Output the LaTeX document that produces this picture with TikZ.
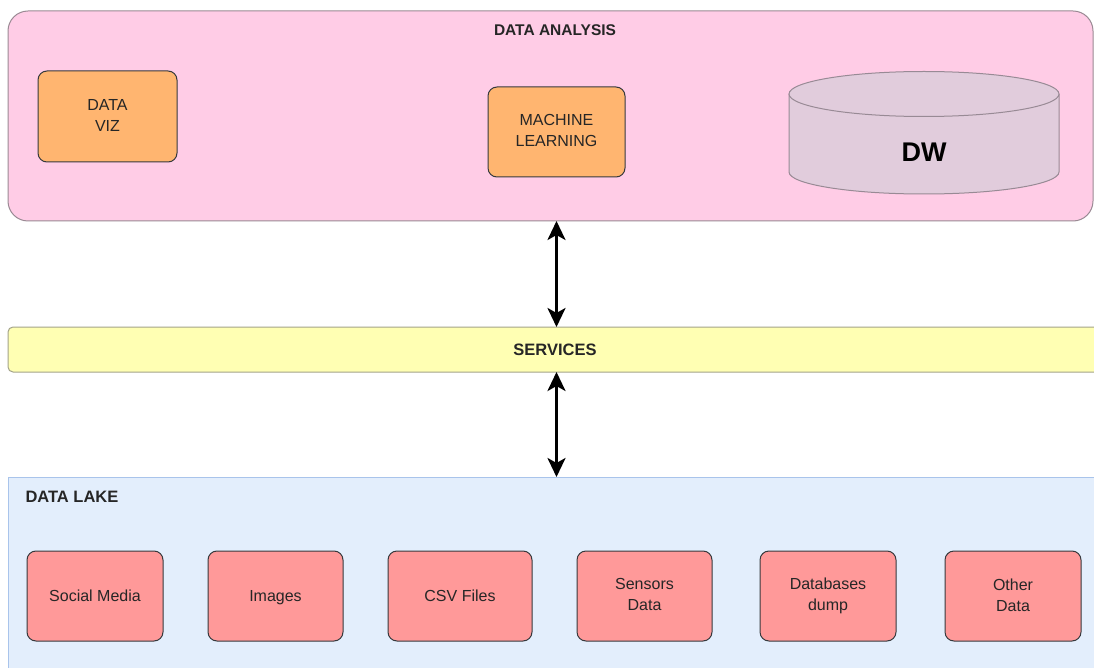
\documentclass[tikz,border=0pt]{standalone}
\usepackage{fontspec}
\setmainfont{Liberation Sans}
\usetikzlibrary{arrows.meta}

\definecolor{pinkfill}{HTML}{FFCCE6}
\definecolor{pinkline}{HTML}{9A8A94}
\definecolor{vizfill}{HTML}{FFB570}
\definecolor{dwfill}{HTML}{E1CCDC}
\definecolor{dwline}{HTML}{988A95}
\definecolor{svcfill}{HTML}{FFFFB3}
\definecolor{svcline}{HTML}{A3A38A}
\definecolor{lakefill}{HTML}{E3EEFC}
\definecolor{lakeline}{HTML}{A9C4EB}
\definecolor{srcfill}{HTML}{FF9999}
\definecolor{boxline}{HTML}{36393D}

% fixed top/bottom struts so every box label sits at the same height
\newcommand{\topstrut}{\rule{0pt}{14pt}}
\newcommand{\botstrut}{\rule[-2.3pt]{0pt}{2.3pt}}

\tikzset{
  layer/.style={inner sep=0pt, outer sep=0pt, line width=1pt},
  box/.style={draw=boxline, line width=1pt, rounded corners=9pt, inner sep=0pt,
    outer sep=0pt, minimum width=137pt, minimum height=90pt, align=center,
    text=black!85, font=\fontsize{16}{21}\selectfont,
    execute at begin node=\topstrut, execute at end node=\botstrut},
  toolbox/.style={box, fill=vizfill},
  srcbox/.style={box, fill=srcfill, minimum width=136pt},
  title/.style={font=\bfseries\fontsize{15.5}{18}\selectfont, text=black!85},
  biarrow/.style={line width=3pt,
    {Stealth[length=19pt,width=18pt,inset=5pt]}-{Stealth[length=19pt,width=18pt,inset=5pt]}},
}

\begin{document}
\begin{tikzpicture}[x=1pt, y=-1pt]
  \clip (0,0) rectangle (1094,668);
  \fill[white] (0,0) rectangle (1094,668);

  % top layer: analysis
  \node[layer, draw=pinkline, fill=pinkfill, rounded corners=20pt,
    minimum width=1085pt, minimum height=210pt] (analysis) at (550.5,116) {};
  \node[title] (analysistitle) at (555,30) {DATA ANALYSIS};
  \node[toolbox, minimum width=139pt, minimum height=91pt] (viz) at (107.5,116.5) {DATA\\VIZ};
  \node[toolbox] (ml) at (556.5,132) {MACHINE\\LEARNING};

  % warehouse drum
  \draw[draw=dwline, fill=dwfill, line width=1pt]
    (789,94) -- (789,172) arc[start angle=180, end angle=0, x radius=135, y radius=22]
    -- (1059,94);
  \draw[draw=dwline, fill=dwfill, line width=1pt] (924,94) ellipse[x radius=135, y radius=22.5];
  \node[font=\bfseries\fontsize{27}{30}\selectfont] (dw) at (924,152) {DW};

  % middle layer
  \node[layer, draw=svcline, fill=svcfill, rounded corners=5pt,
    minimum width=1100pt, minimum height=45pt] (services) at (558,349.5) {};
  \node[title, font=\bfseries\fontsize{16.5}{19}\selectfont] (servicestitle) at (555,349.5) {SERVICES};

  % bottom layer: lake
  \node[layer, draw=lakeline, fill=lakefill,
    minimum width=1100pt, minimum height=210pt] (lake) at (558,582) {};
  \node[title, font=\bfseries\fontsize{16.5}{19}\selectfont, anchor=west] (laketitle) at (22,497) {DATA LAKE};

  \node[srcbox] (social) at (95,596) {Social Media};
  \node[srcbox, minimum width=135pt] (images) at (275.5,596) {Images};
  \node[srcbox, minimum width=144pt] (csv) at (460,596) {CSV Files};
  \node[srcbox, minimum width=135pt] (sensors) at (644.5,596) {Sensors\\Data};
  \node[srcbox] (dbdump) at (828,596) {Databases\\dump};
  \node[srcbox] (other) at (1013,596) {Other\\Data};

  % links between layers
  \draw[biarrow] (ml |- analysis.south) -- (ml |- services.north);
  \draw[biarrow] (ml |- services.south) -- (ml |- lake.north);
\end{tikzpicture}
\end{document}
